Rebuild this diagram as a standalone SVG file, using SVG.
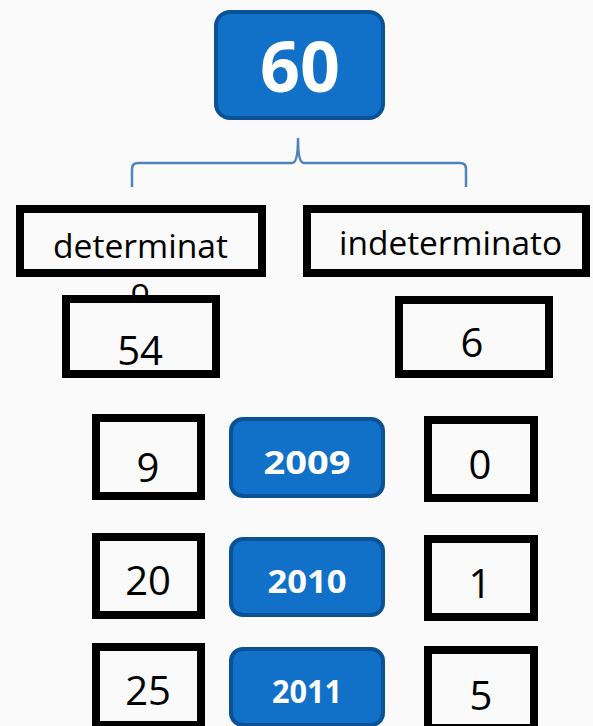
<svg xmlns="http://www.w3.org/2000/svg" width="593" height="726" viewBox="0 0 593 726">
  <style>
    .bg { fill: #fafafa; }
    .box { fill: #fafafa; stroke: #000000; stroke-width: 8; }
    .btn { fill: #1170c8; stroke: #0b5196; stroke-width: 4; }
    .lbl { font-family: "Open Sans", "Liberation Sans", sans-serif; fill: #000000; text-anchor: middle; }
    .num { font-family: "Open Sans", "Liberation Sans", sans-serif; fill: #000000; text-anchor: middle; font-size: 40px; }
    .btxt { font-family: "Open Sans", "Liberation Sans", sans-serif; fill: #ffffff; text-anchor: middle; font-weight: bold; }
    .brace { fill: none; stroke: #4f83bd; stroke-width: 2.5; stroke-linejoin: round; }
  </style>
  <rect class="bg" x="0" y="0" width="593" height="726"/>

  <g id="connectors">
    <path class="brace" d="M132,187 L132,169 Q132,163 138,163 L292,163 Q298,163 298,139 Q298,163 304,163 L460,163 Q466,163 466,169 L466,187"/>
  </g>

  <g id="node-60">
    <rect class="btn" x="216" y="12" width="167" height="106" rx="14"/>
    <text class="btxt" x="300" y="92" font-size="70">60</text>
  </g>

  <g id="node-determinato">
    <rect class="box" x="20" y="209" width="242" height="64"/>
    <text class="lbl" x="140.5" y="258" font-size="32" textLength="175" lengthAdjust="spacingAndGlyphs">determinat</text>
    <text class="lbl" x="140" y="302" font-size="32">o</text>
  </g>

  <g id="node-indeterminato">
    <rect class="box" x="307" y="209" width="279" height="64"/>
    <text class="lbl" x="450.5" y="255" font-size="32" textLength="223" lengthAdjust="spacingAndGlyphs">indeterminato</text>
  </g>

  <g id="node-54">
    <rect class="box" x="66" y="299" width="150" height="75"/>
    <text class="num" x="140" y="365" font-size="42">54</text>
  </g>

  <g id="node-6">
    <rect class="box" x="399" y="300" width="150" height="74"/>
    <text class="num" x="472" y="357" font-size="42">6</text>
  </g>

  <g id="node-9">
    <rect class="box" x="96" y="418" width="105" height="78"/>
    <text class="num" x="148" y="482">9</text>
  </g>
  <g id="node-2009">
    <rect class="btn" x="231" y="419" width="152" height="77" rx="12"/>
    <text class="btxt" x="307" y="474" font-size="32" textLength="87" lengthAdjust="spacingAndGlyphs">2009</text>
  </g>
  <g id="node-0">
    <rect class="box" x="428" y="420" width="106" height="78"/>
    <text class="num" x="480" y="479">0</text>
  </g>

  <g id="node-20">
    <rect class="box" x="96" y="537" width="105" height="78"/>
    <text class="num" x="148" y="595">20</text>
  </g>
  <g id="node-2010">
    <rect class="btn" x="231" y="539" width="152" height="76" rx="12"/>
    <text class="btxt" x="307" y="593" font-size="32" textLength="79" lengthAdjust="spacingAndGlyphs">2010</text>
  </g>
  <g id="node-1">
    <rect class="box" x="428" y="539" width="106" height="78"/>
    <text class="num" x="480" y="598">1</text>
  </g>

  <g id="node-25">
    <rect class="box" x="96" y="647" width="105" height="78"/>
    <text class="num" x="148" y="705">25</text>
  </g>
  <g id="node-2011">
    <rect class="btn" x="231" y="649" width="152" height="76" rx="12"/>
    <text class="btxt" x="307" y="703" font-size="32" textLength="70" lengthAdjust="spacingAndGlyphs">2011</text>
  </g>
  <g id="node-5">
    <rect class="box" x="428" y="650" width="106" height="78"/>
    <text class="num" x="481" y="710">5</text>
  </g>
</svg>
